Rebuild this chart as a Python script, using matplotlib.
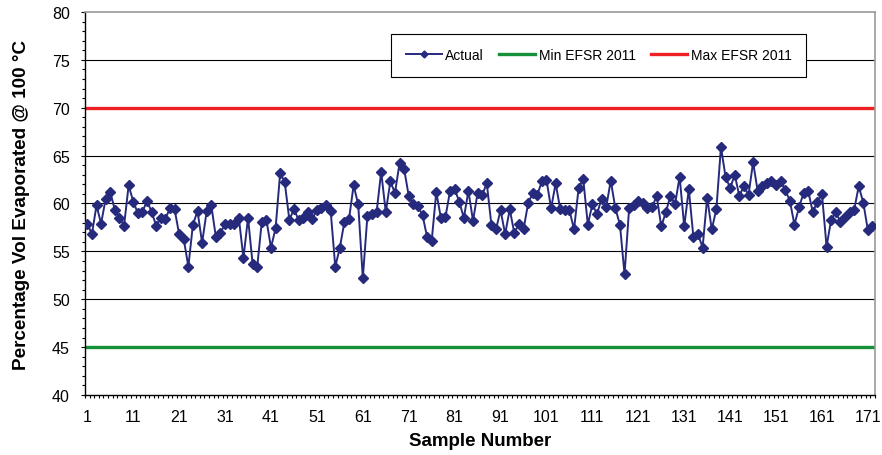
import numpy as np
import matplotlib.pyplot as plt
from matplotlib.ticker import MultipleLocator, FixedLocator

plt.rcParams['font.family'] = ['Liberation Sans', 'DejaVu Sans']

# percentage evaporated at 100 C, one value per sample
actual = [
    57.9, 56.8, 59.8, 57.9, 60.5, 61.2, 59.3, 58.5, 57.7, 61.9,
    60.2, 59.0, 59.1, 60.3, 59.1, 57.7, 58.5, 58.4, 59.5, 59.4,
    56.8, 56.3, 53.4, 57.8, 59.2, 55.9, 59.2, 59.8, 56.5, 56.9,
    57.9, 57.9, 57.9, 58.5, 54.3, 58.5, 53.7, 53.4, 58.1, 58.3,
    55.4, 57.4, 63.2, 62.2, 58.3, 59.4, 58.3, 58.5, 59.1, 58.4,
    59.3, 59.5, 59.8, 59.2, 53.4, 55.4, 58.1, 58.4, 61.9, 59.9,
    52.2, 58.7, 58.9, 59.1, 63.3, 59.1, 62.3, 61.1, 64.2, 63.6,
    60.8, 59.9, 59.7, 58.8, 56.5, 56.1, 61.2, 58.5, 58.6, 61.3,
    61.5, 60.2, 58.5, 61.3, 58.2, 61.1, 60.9, 62.1, 57.8, 57.3,
    59.3, 56.8, 59.4, 56.9, 57.9, 57.3, 60.0, 61.1, 60.9, 62.3,
    62.5, 59.5, 62.1, 59.4, 59.3, 59.3, 57.3, 61.6, 62.6, 57.8,
    59.9, 58.9, 60.5, 59.6, 62.4, 59.5, 57.8, 52.6, 59.5, 59.8,
    60.3, 60.0, 59.5, 59.6, 60.8, 57.6, 59.1, 60.8, 59.9, 62.8,
    57.6, 61.5, 56.5, 56.8, 55.4, 60.6, 57.3, 59.4, 65.9, 62.8,
    61.6, 63.0, 60.8, 61.8, 60.9, 64.3, 61.3, 61.8, 62.1, 62.3,
    61.9, 62.3, 61.4, 60.3, 57.8, 59.6, 61.1, 61.3, 59.1, 60.2,
    61.0, 55.5, 58.3, 59.1, 58.1, 58.6, 59.1, 59.3, 61.8, 60.1,
    57.2, 57.7,
]
samples = np.arange(1, len(actual) + 1)
min_efsr = 45
max_efsr = 70

fig = plt.figure(figsize=(8.82, 4.56), dpi=100)
ax = fig.add_axes([0.0964, 0.1316, 0.8954, 0.8399])

for y in range(45, 80, 5):
    ax.axhline(y, color='black', lw=0.8, zorder=1)

ax.axhline(min_efsr, color='#17903a', lw=2.4, zorder=2, label='Min EFSR 2011')
ax.axhline(max_efsr, color='#ee2024', lw=2.4, zorder=2, label='Max EFSR 2011')
ax.plot(samples, actual, color='#262a7c', lw=1.4, marker='D', markersize=5,
        zorder=3, label='Actual')

ax.set_xlim(0.5, len(actual) + 0.5)
ax.set_ylim(40, 80)
ax.yaxis.set_major_locator(MultipleLocator(5))
ax.yaxis.set_minor_locator(MultipleLocator(1))
ax.xaxis.set_major_locator(FixedLocator(np.arange(1, len(actual) + 1, 10)))
ax.xaxis.set_minor_locator(FixedLocator(np.arange(0.5, len(actual) + 1, 1)))
ax.tick_params(axis='both', which='both', direction='out', labelsize=11.5,
               color='black', width=0.8)
ax.tick_params(axis='y', which='major', length=3, pad=8)
ax.tick_params(axis='both', which='minor', length=2.5)
ax.tick_params(axis='x', which='major', length=0, pad=10)

for side in ['top', 'right']:
    ax.spines[side].set_color('#9a9a9a')
    ax.spines[side].set_linewidth(1.2)
for side in ['left', 'bottom']:
    ax.spines[side].set_linewidth(1.0)

ax.set_xlabel('Sample Number', fontsize=13.5, fontweight='bold', labelpad=6)
ax.set_ylabel('Percentage Vol Evaporated @ 100 °C', fontsize=13.6,
              fontweight='bold', labelpad=15.5)

handles, labels = ax.get_legend_handles_labels()
order = [2, 0, 1]
leg = ax.legend([handles[i] for i in order], [labels[i] for i in order],
                ncol=3, loc='center', bbox_to_anchor=(0.6786, 0.877),
                bbox_transform=fig.transFigure, fontsize=10, frameon=True,
                fancybox=False, edgecolor='black', framealpha=1,
                handlelength=2.6, columnspacing=1.1, handletextpad=0.25,
                borderpad=1.05, borderaxespad=0, markerscale=0.7)
leg.get_frame().set_linewidth(0.8)

fig.savefig('out.png', dpi=100)
